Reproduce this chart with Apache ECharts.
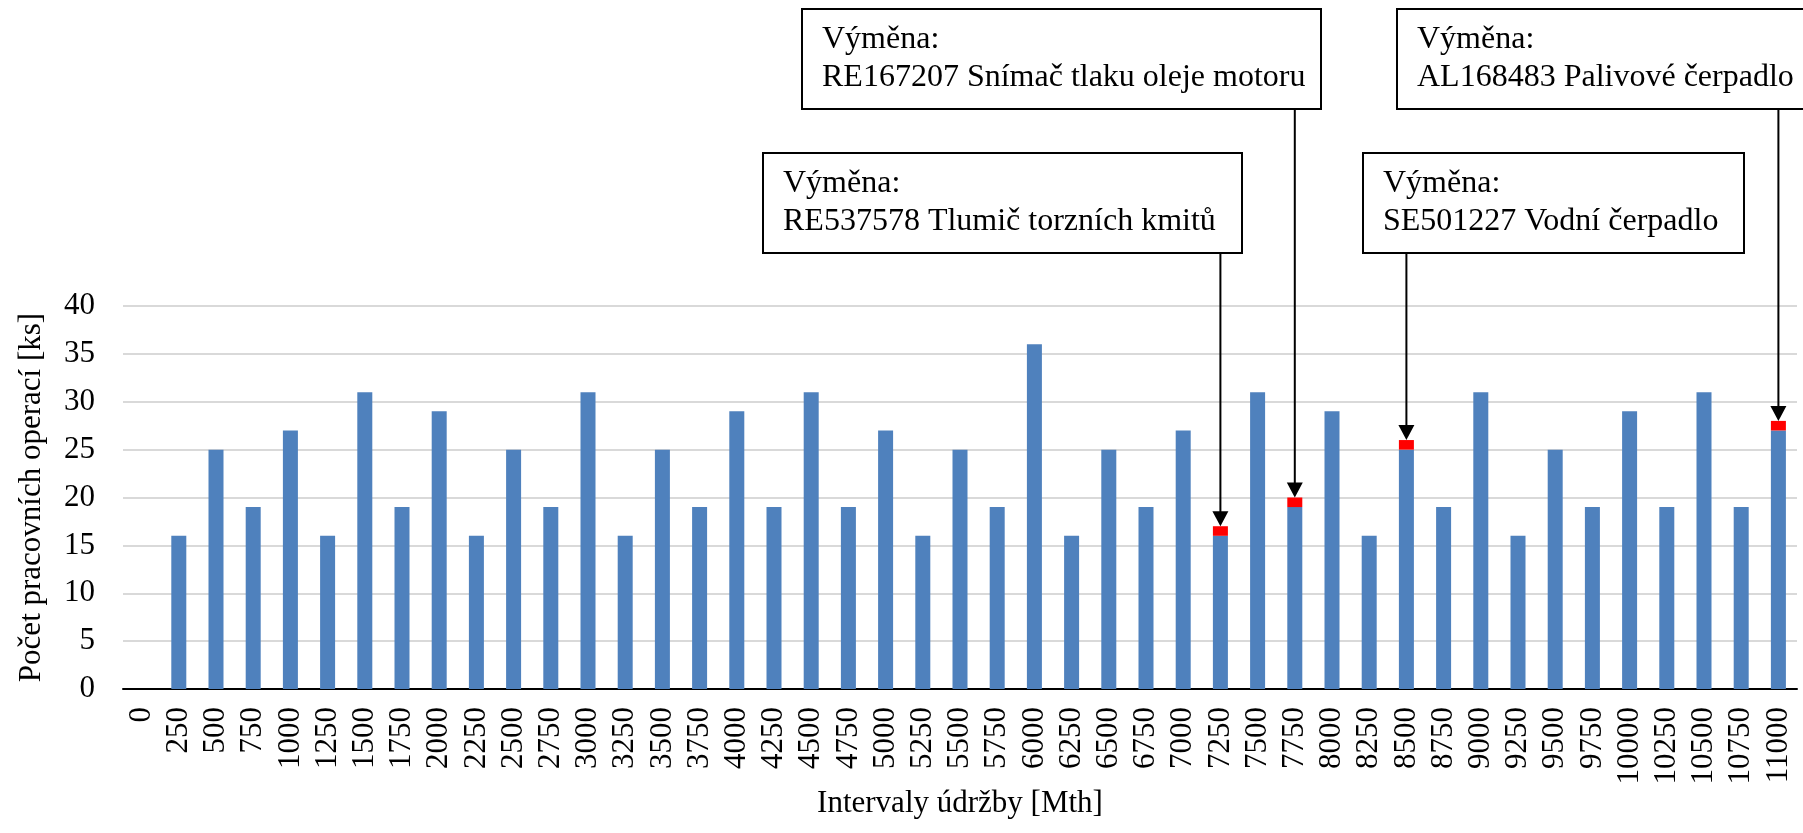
<!DOCTYPE html>
<html>
<head>
<meta charset="utf-8">
<script src="https://cdn.jsdelivr.net/npm/echarts@6/dist/echarts.min.js"></script>
<style>
html, body { margin: 0; padding: 0; background: #fff; }
#chart { width: 1803px; height: 833px; }
</style>
</head>
<body>
<div id="chart"></div>
<script>
// intervaly údržby [Mth]
const categories = ['0', '250', '500', '750', '1000', '1250', '1500', '1750', '2000', '2250',
  '2500', '2750', '3000', '3250', '3500', '3750', '4000', '4250', '4500', '4750',
  '5000', '5250', '5500', '5750', '6000', '6250', '6500', '6750', '7000', '7250',
  '7500', '7750', '8000', '8250', '8500', '8750', '9000', '9250', '9500', '9750',
  '10000', '10250', '10500', '10750', '11000'];
// počet pracovních operací
const operations = ['-', 16, 25, 19, 27, 16, 31, 19, 29, 16,
  25, 19, 31, 16, 25, 19, 29, 19, 31, 19,
  27, 16, 25, 19, 36, 16, 25, 19, 27, 16,
  31, 19, 29, 16, 25, 19, 31, 16, 25, 19,
  29, 19, 31, 19, 27];
// výměna dílu (červený úsek)
const replacements = ['-', '-', '-', '-', '-', '-', '-', '-', '-', '-',
  '-', '-', '-', '-', '-', '-', '-', '-', '-', '-',
  '-', '-', '-', '-', '-', '-', '-', '-', '-', 1,
  '-', 1, '-', '-', 1, '-', '-', '-', '-', '-',
  '-', '-', '-', '-', 1];
const yTicks = [0, 40, 5]; // min, max, interval

// popisky výměn
const noteAt = ['7250', '7750', '8500', '11000'];
const noteTexts = [
  'Výměna:\nRE537578 Tlumič torzních kmitů',
  'Výměna:\nRE167207 Snímač tlaku oleje motoru',
  'Výměna:\nSE501227 Vodní čerpadlo',
  'Výměna:\nAL168483 Palivové čerpadlo'
];
// rozmístění rámečků [x, y, w, h]
const noteBoxes = [
  [763, 153, 479, 100],
  [802, 9, 519, 100],
  [1363, 153, 381, 100],
  [1397, 9, 410, 100]
];

const font = 'Liberation Serif';

const chart = echarts.init(document.getElementById('chart'));
const option = {
  animation: false,
  textStyle: { fontFamily: font },
  grid: { left: 123, right: 6, top: 306, bottom: 144 },
  xAxis: {
    type: 'category',
    data: categories,
    name: 'Intervaly údržby [Mth]',
    nameLocation: 'middle',
    nameGap: 94,
    nameTextStyle: { fontFamily: font, fontSize: 31, color: '#000' },
    axisLine: { lineStyle: { color: '#000', width: 2 } },
    axisTick: { show: false },
    axisLabel: {
      interval: 0,
      rotate: 90,
      margin: 18,
      fontFamily: font,
      fontSize: 31,
      color: '#000'
    }
  },
  yAxis: {
    type: 'value',
    min: yTicks[0],
    max: yTicks[1],
    interval: yTicks[2],
    name: 'Počet pracovních operací [ks]',
    nameLocation: 'middle',
    nameGap: 76,
    nameTextStyle: { fontFamily: font, fontSize: 31, color: '#000' },
    axisLine: { show: false },
    axisTick: { show: false },
    axisLabel: { margin: 28, fontFamily: font, fontSize: 31, color: '#000' },
    splitLine: { lineStyle: { color: '#d9d9d9', width: 2 } }
  },
  series: [
    {
      name: 'Operace',
      type: 'bar',
      stack: 'a',
      barWidth: 15,
      data: operations,
      itemStyle: { color: '#4f81bd' }
    },
    {
      name: 'Výměna',
      type: 'bar',
      stack: 'a',
      barWidth: 15,
      data: replacements,
      itemStyle: { color: '#ff0000' }
    }
  ]
};
chart.setOption(option);

// rámečky a šipky
const graphics = [];
noteAt.forEach((cat, i) => {
  const idx = categories.indexOf(cat);
  const top = operations[idx] + (replacements[idx] === '-' ? 0 : replacements[idx]);
  const p = chart.convertToPixel({ gridIndex: 0 }, [idx, top]);
  const b = noteBoxes[i];
  graphics.push({
    type: 'rect',
    shape: { x: b[0], y: b[1], width: b[2], height: b[3] },
    style: { fill: '#fff', stroke: '#000', lineWidth: 2 },
    z: 10
  });
  graphics.push({
    type: 'text',
    x: b[0] + 20,
    y: b[1] + 12,
    style: {
      text: noteTexts[i],
      fontFamily: font,
      fontSize: 32,
      fill: '#000',
      lineHeight: 38,
      verticalAlign: 'top'
    },
    z: 11
  });
  graphics.push({
    type: 'line',
    shape: { x1: p[0], y1: b[1] + b[3], x2: p[0], y2: p[1] - 12 },
    style: { stroke: '#000', lineWidth: 2 },
    z: 10
  });
  graphics.push({
    type: 'polygon',
    shape: { points: [[p[0] - 8, p[1] - 15], [p[0] + 8, p[1] - 15], [p[0], p[1]]] },
    style: { fill: '#000' },
    z: 10
  });
});
chart.setOption({ graphic: graphics });
</script>
</body>
</html>
